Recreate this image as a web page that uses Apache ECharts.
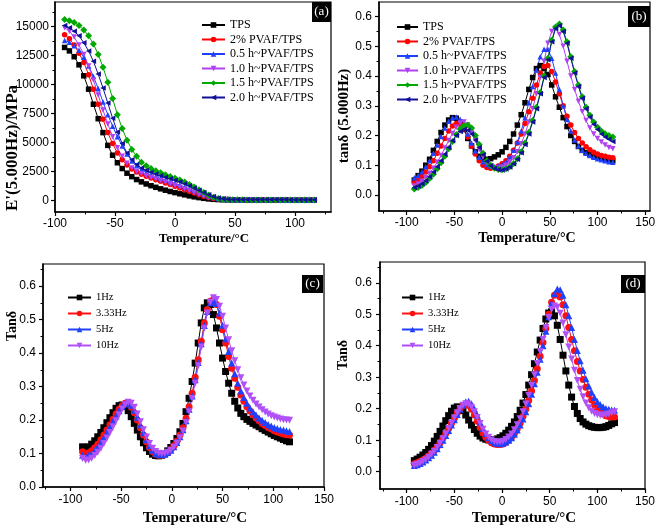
<!DOCTYPE html>
<html><head><meta charset="utf-8">
<script src="https://cdn.jsdelivr.net/npm/echarts@6/dist/echarts.min.js"></script>
<style>html,body{margin:0;padding:0;background:#fff}#c{width:661px;height:530px}</style>
</head><body><div id="c"></div>
<script>
// ---------- temperatures (°C) ----------
const tAB = [-92,-88,-84,-80,-76,-72,-68,-64,-60,-56,-52,-48,-44,-40,-36,-32,-28,-24,-20,-16,-12,-8,-4,0,4,8,12,16,20,24,28,32,36,40,44,48,52,56,60,64,68,72,76,80,84,88,92,96,100,104,108,112,116];
const tC = [-88,-85,-82,-79,-76,-73,-70,-67,-64,-61,-58,-55,-52,-49,-46,-43,-40,-37,-34,-31,-28,-25,-22,-19,-16,-13,-10,-7,-4,-1,2,5,8,11,14,17,20,23,26,29,32,35,38,41,44,47,50,53,56,59,62,65,68,71,74,77,80,83,86,89,92,95,98,101,104,107,110,113,116];
const tD = [-92,-89,-86,-83,-80,-77,-74,-71,-68,-65,-62,-59,-56,-53,-50,-47,-44,-41,-38,-35,-32,-29,-26,-23,-20,-17,-14,-11,-8,-5,-2,1,4,7,10,13,16,19,22,25,28,31,34,37,40,43,46,49,52,55,58,61,64,67,70,73,76,79,82,85,88,91,94,97,100,103,106,109,112,115,118];

// ---------- names ----------
const namesAB = ["TPS","2% PVAF/TPS","0.5 h~PVAF/TPS","1.0 h~PVAF/TPS","1.5 h~PVAF/TPS","2.0 h~PVAF/TPS"];
const namesCD = ["1Hz","3.33Hz","5Hz","10Hz"];

// ---------- (a) E'(5.000Hz)/MPa ----------
const aTPS = [13200,12900,12400,11700,10750,9600,8300,7050,5850,4750,3900,3250,2750,2350,2050,1800,1600,1420,1270,1130,1000,880,770,670,570,480,390,310,240,180,130,95,70,55,45,40,38,36,34,32,30,29,28,27,26,25,24,23,22,21,20,20,20];
const a2 = [14300,13950,13400,12700,11900,10850,9600,8300,7000,5850,4900,4100,3500,3050,2700,2450,2250,2080,1930,1790,1650,1510,1370,1230,1080,930,780,630,490,360,250,170,115,85,70,60,55,52,50,48,46,44,42,40,39,38,37,36,35,34,33,32,31];
const a05 = [13800,13650,13350,12950,12350,11600,10700,9650,8500,7400,6400,5500,4700,4000,3400,3000,2650,2400,2200,2050,1900,1760,1620,1480,1330,1170,1010,850,680,520,370,250,160,110,85,70,65,62,60,58,56,54,52,50,48,46,45,44,43,42,41,40,40];
const a10 = [14900,14600,14100,13400,12600,11600,10400,9100,7800,6600,5500,4550,3800,3200,2800,2500,2300,2130,1980,1840,1700,1560,1420,1280,1130,980,830,680,530,390,270,180,120,90,72,62,58,55,52,50,48,46,44,42,41,40,39,38,37,36,35,34,33];
const a15 = [15600,15500,15350,15100,14700,14200,13500,12600,11500,10200,8800,7400,6200,5200,4400,3800,3300,3000,2750,2550,2380,2220,2070,1920,1760,1580,1380,1160,920,680,460,280,160,100,70,55,50,48,46,45,44,43,42,41,40,39,38,37,36,35,34,33,32];
const a20 = [15100,14900,14600,14200,13600,12900,12000,10900,9700,8400,7100,5900,4900,4100,3500,3100,2800,2600,2420,2270,2130,2000,1870,1740,1600,1440,1270,1080,880,680,490,330,210,140,100,85,80,78,76,75,74,73,72,71,70,69,68,67,66,65,64,63,62];

// ---------- (b) tanδ (5.000Hz) ----------
const bTPS = [0.05,0.065,0.08,0.1,0.12,0.15,0.18,0.21,0.235,0.252,0.26,0.258,0.245,0.22,0.19,0.165,0.145,0.13,0.122,0.12,0.122,0.128,0.135,0.145,0.16,0.18,0.205,0.235,0.27,0.31,0.355,0.395,0.425,0.435,0.425,0.405,0.37,0.33,0.295,0.26,0.23,0.2,0.18,0.163,0.15,0.142,0.136,0.131,0.127,0.124,0.121,0.118,0.115];
const b2 = [0.04,0.05,0.062,0.077,0.095,0.115,0.14,0.165,0.19,0.215,0.232,0.24,0.238,0.222,0.195,0.165,0.138,0.115,0.1,0.092,0.09,0.092,0.097,0.105,0.115,0.13,0.15,0.175,0.205,0.24,0.28,0.325,0.37,0.41,0.432,0.435,0.415,0.38,0.34,0.3,0.265,0.235,0.21,0.19,0.175,0.162,0.152,0.144,0.138,0.133,0.13,0.127,0.125];
const b05 = [0.058,0.065,0.078,0.095,0.115,0.14,0.168,0.197,0.225,0.248,0.26,0.262,0.255,0.235,0.205,0.175,0.148,0.127,0.112,0.102,0.097,0.095,0.097,0.102,0.112,0.128,0.15,0.178,0.215,0.26,0.31,0.365,0.42,0.465,0.49,0.49,0.46,0.41,0.355,0.3,0.255,0.215,0.185,0.165,0.15,0.14,0.133,0.127,0.122,0.118,0.115,0.112,0.11];
const b10 = [0.03,0.037,0.046,0.058,0.073,0.09,0.11,0.133,0.158,0.183,0.207,0.228,0.242,0.245,0.235,0.212,0.183,0.153,0.127,0.108,0.097,0.091,0.09,0.093,0.1,0.11,0.125,0.145,0.172,0.205,0.245,0.29,0.34,0.395,0.45,0.51,0.55,0.56,0.54,0.5,0.45,0.4,0.355,0.315,0.28,0.25,0.225,0.205,0.19,0.178,0.168,0.16,0.155];
const b15 = [0.02,0.025,0.032,0.042,0.055,0.07,0.088,0.108,0.13,0.155,0.18,0.203,0.222,0.233,0.235,0.225,0.2,0.17,0.14,0.115,0.1,0.09,0.086,0.085,0.088,0.095,0.106,0.122,0.145,0.175,0.21,0.25,0.295,0.345,0.4,0.46,0.52,0.565,0.575,0.555,0.515,0.465,0.415,0.37,0.33,0.295,0.268,0.245,0.228,0.215,0.206,0.2,0.195];
const b20 = [0.025,0.03,0.038,0.048,0.061,0.077,0.095,0.115,0.137,0.16,0.182,0.2,0.213,0.22,0.218,0.205,0.185,0.16,0.135,0.113,0.098,0.089,0.085,0.084,0.087,0.094,0.105,0.12,0.142,0.17,0.205,0.245,0.29,0.34,0.395,0.455,0.515,0.56,0.57,0.55,0.51,0.46,0.41,0.365,0.325,0.29,0.262,0.238,0.22,0.205,0.195,0.187,0.18];

// ---------- (c) Tanδ vs frequency ----------
const c1 = [0.12,0.118,0.12,0.128,0.138,0.15,0.163,0.177,0.192,0.207,0.222,0.235,0.243,0.245,0.24,0.228,0.21,0.19,0.17,0.15,0.132,0.117,0.106,0.098,0.094,0.093,0.095,0.1,0.108,0.118,0.13,0.145,0.165,0.19,0.225,0.265,0.315,0.37,0.43,0.49,0.535,0.55,0.545,0.515,0.475,0.43,0.385,0.345,0.31,0.28,0.256,0.236,0.22,0.21,0.202,0.196,0.19,0.185,0.18,0.174,0.169,0.164,0.159,0.154,0.15,0.146,0.142,0.138,0.135];
const c3 = [0.105,0.1,0.102,0.108,0.117,0.128,0.141,0.155,0.17,0.186,0.202,0.218,0.232,0.243,0.25,0.248,0.238,0.222,0.2,0.177,0.155,0.135,0.118,0.106,0.098,0.095,0.095,0.098,0.104,0.112,0.123,0.137,0.155,0.177,0.205,0.24,0.28,0.328,0.38,0.435,0.49,0.53,0.555,0.56,0.545,0.51,0.47,0.43,0.39,0.355,0.325,0.298,0.275,0.256,0.24,0.227,0.216,0.206,0.198,0.19,0.184,0.178,0.173,0.168,0.164,0.161,0.158,0.156,0.155];
const c5 = [0.095,0.092,0.094,0.1,0.109,0.12,0.133,0.147,0.163,0.179,0.196,0.212,0.228,0.241,0.249,0.251,0.244,0.229,0.208,0.185,0.162,0.141,0.123,0.11,0.101,0.097,0.096,0.098,0.103,0.11,0.12,0.133,0.15,0.171,0.198,0.232,0.272,0.32,0.372,0.428,0.482,0.524,0.55,0.557,0.548,0.52,0.483,0.443,0.405,0.37,0.338,0.31,0.287,0.267,0.25,0.236,0.225,0.215,0.206,0.199,0.193,0.187,0.182,0.178,0.175,0.172,0.17,0.168,0.166];
const c10 = [0.085,0.08,0.081,0.086,0.094,0.104,0.116,0.13,0.146,0.163,0.18,0.198,0.216,0.233,0.246,0.253,0.25,0.238,0.218,0.195,0.171,0.149,0.13,0.116,0.106,0.101,0.099,0.1,0.104,0.11,0.119,0.131,0.147,0.167,0.193,0.225,0.264,0.31,0.362,0.418,0.474,0.52,0.552,0.565,0.56,0.54,0.51,0.475,0.44,0.407,0.377,0.35,0.326,0.305,0.287,0.272,0.259,0.248,0.239,0.231,0.224,0.218,0.213,0.209,0.206,0.203,0.201,0.2,0.199];

// ---------- (d) Tanδ vs frequency ----------
const d1 = [0.035,0.04,0.046,0.053,0.061,0.071,0.083,0.097,0.112,0.128,0.145,0.162,0.178,0.192,0.202,0.206,0.203,0.194,0.18,0.164,0.148,0.134,0.122,0.113,0.107,0.103,0.101,0.1,0.101,0.104,0.108,0.114,0.122,0.132,0.144,0.158,0.175,0.195,0.218,0.245,0.275,0.308,0.343,0.38,0.418,0.455,0.485,0.504,0.508,0.495,0.465,0.42,0.37,0.32,0.275,0.237,0.207,0.185,0.169,0.158,0.151,0.146,0.143,0.141,0.14,0.14,0.141,0.143,0.147,0.152,0.156];
const d3 = [0.025,0.028,0.032,0.037,0.043,0.05,0.058,0.068,0.079,0.092,0.106,0.121,0.137,0.154,0.17,0.186,0.2,0.21,0.214,0.21,0.198,0.18,0.16,0.14,0.123,0.109,0.099,0.092,0.088,0.086,0.086,0.088,0.093,0.1,0.109,0.121,0.136,0.154,0.175,0.199,0.226,0.256,0.29,0.327,0.367,0.41,0.455,0.5,0.538,0.56,0.565,0.555,0.53,0.495,0.458,0.42,0.384,0.35,0.32,0.293,0.268,0.246,0.228,0.212,0.2,0.19,0.183,0.178,0.175,0.174,0.174];
const d5 = [0.02,0.022,0.026,0.031,0.037,0.044,0.052,0.062,0.073,0.086,0.1,0.115,0.131,0.148,0.165,0.182,0.198,0.212,0.222,0.224,0.216,0.2,0.18,0.158,0.138,0.121,0.108,0.099,0.093,0.09,0.089,0.09,0.094,0.1,0.108,0.119,0.132,0.148,0.167,0.19,0.216,0.246,0.279,0.316,0.357,0.4,0.446,0.492,0.535,0.565,0.58,0.578,0.56,0.53,0.495,0.458,0.42,0.385,0.352,0.322,0.295,0.272,0.252,0.236,0.223,0.213,0.206,0.201,0.198,0.196,0.195];
const d10 = [0.02,0.023,0.027,0.032,0.038,0.046,0.055,0.065,0.077,0.09,0.105,0.12,0.137,0.154,0.171,0.187,0.201,0.211,0.216,0.214,0.205,0.19,0.172,0.153,0.135,0.12,0.109,0.101,0.096,0.094,0.094,0.097,0.102,0.11,0.12,0.133,0.149,0.168,0.19,0.215,0.243,0.274,0.308,0.344,0.382,0.42,0.458,0.49,0.515,0.526,0.522,0.503,0.472,0.435,0.396,0.358,0.322,0.29,0.262,0.238,0.218,0.203,0.192,0.185,0.181,0.179,0.179,0.18,0.183,0.186,0.19];

// ---------- tick values ----------
const xMajA = [-100,-50,0,50,100], xMinA = [-75,-25,25,75,125];
const yMajA = [0,2500,5000,7500,10000,12500,15000], yMinA = [1250,3750,6250,8750,11250,13750,16250];
const xMajT = [-100,-50,0,50,100,150], xMinT = [-125,-75,-25,25,75,125];
const yMajT = [0,0.1,0.2,0.3,0.4,0.5,0.6], yMinT = [0.05,0.15,0.25,0.35,0.45,0.55,0.65];

const SANS = 'Liberation Sans', SERIF = 'Liberation Serif';
const grids = [
  {left:55, top:2, width:276, height:210},
  {left:379, top:2, width:271, height:209},
  {left:43, top:264, width:281, height:223},
  {left:380, top:262, width:265, height:227}
];
const ranges = [
  {x:[-100,130], y:[-1000,17120], xMaj:xMajA, xMin:xMinA, yMaj:yMajA, yMin:yMinA, dec:0, xm:6, ym:6},
  {x:[-129,155], y:[-0.054,0.649], xMaj:xMajT, xMin:xMinT, yMaj:yMajT, yMin:yMinT, dec:1, xm:6, ym:7},
  {x:[-127,150], y:[0,0.666], xMaj:xMajT, xMin:xMinT, yMaj:yMajT, yMin:yMinT, dec:1, xm:7, ym:7},
  {x:[-128,150], y:[-0.055,0.666], xMaj:xMajT, xMin:xMinT, yMaj:yMajT, yMin:yMinT, dec:1, xm:7, ym:8}
];
const xAxes = [], yAxes = [];
ranges.forEach((r, gi) => {
  const fmt = v => r.dec ? Number(v).toFixed(1) : String(Math.round(v));
  xAxes.push({gridIndex:gi, type:'value', position:'bottom', min:r.x[0], max:r.x[1],
    axisLine:{show:true, onZero:false, lineStyle:{color:'#000', width:1.5}},
    axisTick:{show:true, customValues:r.xMaj, length:4, lineStyle:{color:'#000', width:1.2}},
    axisLabel:{customValues:r.xMaj, color:'#000', fontSize:12, fontFamily:SANS, margin:r.xm},
    splitLine:{show:false}});
  xAxes.push({gridIndex:gi, type:'value', position:'bottom', min:r.x[0], max:r.x[1],
    axisLine:{show:false, onZero:false}, axisTick:{show:true, customValues:r.xMin, length:2.5, lineStyle:{color:'#000', width:1}},
    axisLabel:{show:false}, splitLine:{show:false}});
  yAxes.push({gridIndex:gi, type:'value', position:'left', min:r.y[0], max:r.y[1],
    axisLine:{show:true, onZero:false, lineStyle:{color:'#000', width:1.5}},
    axisTick:{show:true, customValues:r.yMaj, length:4, lineStyle:{color:'#000', width:1.2}},
    axisLabel:{customValues:r.yMaj, color:'#000', fontSize:12, fontFamily:SANS, margin:r.ym, formatter:fmt},
    splitLine:{show:false}});
  yAxes.push({gridIndex:gi, type:'value', position:'left', min:r.y[0], max:r.y[1],
    axisLine:{show:false, onZero:false}, axisTick:{show:true, customValues:r.yMin, length:2.5, lineStyle:{color:'#000', width:1}},
    axisLabel:{show:false}, splitLine:{show:false}});
});

const stylesAB = [
  {c:'#000000', s:'rect', r:0},
  {c:'#ff0000', s:'circle', r:0},
  {c:'#2040ff', s:'triangle', r:0},
  {c:'#b040f0', s:'triangle', r:180},
  {c:'#00a800', s:'diamond', r:0},
  {c:'#10109a', s:'triangle', r:90}
];
const stylesCD = [
  {c:'#000000', s:'rect', r:0},
  {c:'#ff1010', s:'circle', r:0},
  {c:'#2040ff', s:'triangle', r:0},
  {c:'#b050f8', s:'triangle', r:180}
];
function mk(name, panel, temps, vals, st, size) {
  return {name, type:'line', xAxisIndex:panel*2, yAxisIndex:panel*2,
    data: temps.map((t,i)=>[t, vals[i]]),
    symbol:st.s, symbolRotate:st.r, symbolSize:(st.s==='diamond'?size+1.5:size), showAllSymbol:true,
    lineStyle:{color:st.c, width:1}, itemStyle:{color:st.c}, emphasis:{disabled:true}};
}
const series = [];
[aTPS,a2,a05,a10,a15,a20].forEach((v,i)=>series.push(mk(namesAB[i],0,tAB,v,stylesAB[i],5.5)));
[bTPS,b2,b05,b10,b15,b20].forEach((v,i)=>series.push(mk(namesAB[i],1,tAB,v,stylesAB[i],5.5)));
[c1,c3,c5,c10].forEach((v,i)=>series.push(mk(namesCD[i],2,tC,v,stylesCD[i],7)));
[d1,d3,d5,d10].forEach((v,i)=>series.push(mk(namesCD[i],3,tD,v,stylesCD[i],7)));

function legend(left, top, names, gap, w, fs) {
  return {orient:'vertical', left, top, data:names, itemGap:gap, itemWidth:w, itemHeight:7,
    selectedMode:false, textStyle:{fontFamily:SERIF, fontSize:fs, color:'#000'}};
}
const legends = [
  legend(196, 14, namesAB, 2.5, 23, 12),
  legend(391, 16, namesAB, 2.5, 21, 12),
  legend(62, 287, namesCD, 5, 23, 10.5),
  legend(396, 287, namesCD, 5, 21, 10.5)
];

function tag(x, y, w, h, t) {
  return [{type:'rect', shape:{x, y, width:w, height:h}, style:{fill:'#000'}, z:100},
          {type:'text', x:x+w/2, y:y+h/2, z:101, style:{text:t, fill:'#fff', font:'13px "Liberation Serif"', align:'center', verticalAlign:'middle'}}];
}
function title(x, y, t, fs, rot) {
  return {type:'text', x, y, rotation:rot?Math.PI/2:0, z:100,
    style:{text:t, fill:'#000', font:'bold '+fs+'px "Liberation Serif"', align:'center', verticalAlign:'middle'}};
}
const graphics = [].concat(
  tag(312,2,19,20,'(a)'), tag(628,6,22,21,'(b)'), tag(302,275,21,18,'(c)'), tag(621,275,24,18,'(d)'),
  [title(204,239,'Temperature/°C',13,false), title(527,238,'Temperature/°C',14,false),
   title(195,518,'Temperature/°C',15,false), title(524,518,'Temperature/°C',15,false),
   title(12.5,148,"E'(5.000Hz)/MPa",17,true), title(344,116,'tanδ (5.000Hz)',15,true),
   title(12,326,'Tanδ',14,true), title(343.5,355,'Tanδ',14,true)]
);

const chart = echarts.init(document.getElementById('c'), null, {renderer:'canvas'});
chart.setOption({
  animation:false,
  backgroundColor:'#fff',
  grid: grids.map(g => Object.assign({show:true, borderColor:'#000', borderWidth:1.2, containLabel:false}, g)),
  xAxis: xAxes, yAxis: yAxes,
  legend: legends,
  series,
  graphic: graphics
});
</script></body></html>
